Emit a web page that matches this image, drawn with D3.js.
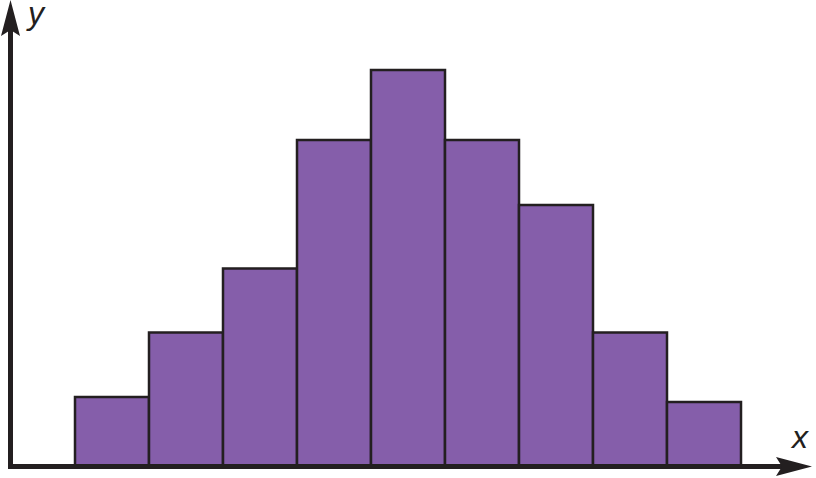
<!DOCTYPE html>
<html><head><meta charset="utf-8">
<script src="https://cdn.jsdelivr.net/npm/d3@7"></script>
<style>html,body{margin:0;padding:0;background:#fff;}svg{display:block;}</style>
</head><body>
<svg id="c" width="816" height="478"></svg>
<script>
const bins = ["1","2","3","4","5","6","7","8","9"];
const freqs = [69, 133.5, 197.5, 326, 396, 326, 261, 133.5, 64];

const svg = d3.select("#c");
const x = d3.scaleBand().domain(bins).range([75, 741]).padding(0);
const y = d3.scaleLinear().domain([0, 466]).range([466, 0]);

svg.append("g").selectAll("rect").data(freqs).join("rect")
  .attr("x", (d,i) => x(bins[i]))
  .attr("y", d => y(d))
  .attr("width", x.bandwidth())
  .attr("height", d => y(0) - y(d))
  .attr("fill", "#855EAA")
  .attr("stroke", "#231F20")
  .attr("stroke-width", 2.5);

// axes
const ink = "#231F20";
svg.append("line").attr("x1", 10.5).attr("x2", 10.5).attr("y1", 469).attr("y2", 30)
  .attr("stroke", ink).attr("stroke-width", 5);
svg.append("line").attr("x1", 8).attr("x2", 785).attr("y1", 466.5).attr("y2", 466.5)
  .attr("stroke", ink).attr("stroke-width", 5);
// arrowheads
svg.append("path").attr("d", "M10.5,0 L20,36 L10.5,30 L1,36 Z").attr("fill", ink);
svg.append("path").attr("d", "M812,466.5 L776,476 L782,466.5 L776,457 Z").attr("fill", ink);

svg.append("text").attr("x", 28).attr("y", 24).text("y")
  .attr("font-family", "Liberation Sans, Arial, sans-serif").attr("font-style", "italic")
  .attr("font-size", 32).attr("fill", ink);
svg.append("text").attr("x", 792).attr("y", 448).text("x")
  .attr("font-family", "Liberation Sans, Arial, sans-serif").attr("font-style", "italic")
  .attr("font-size", 32).attr("fill", ink);
</script>
</body></html>
